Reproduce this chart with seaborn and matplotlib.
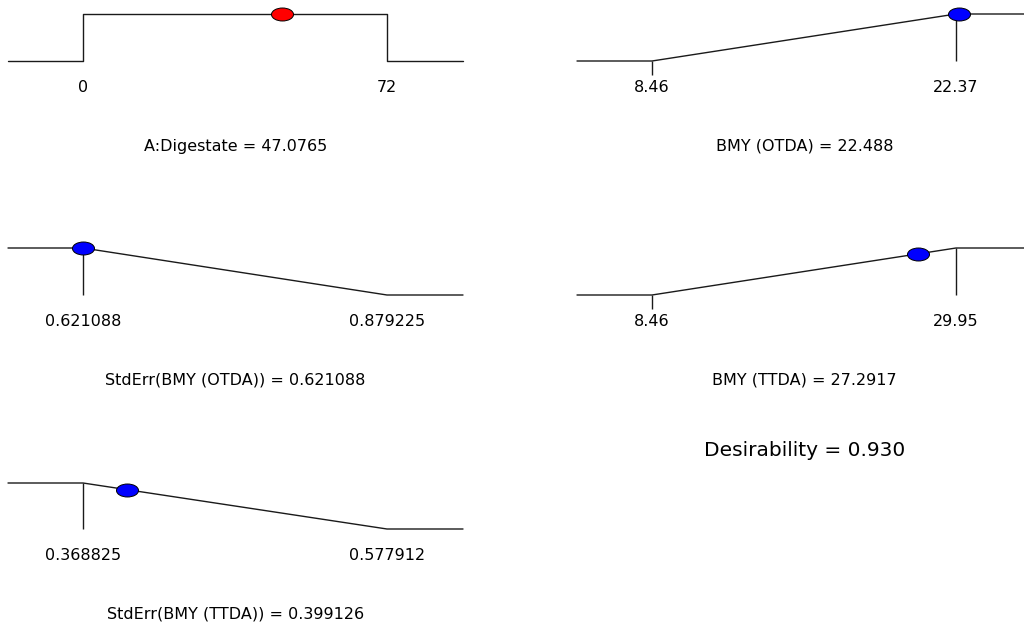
import numpy as np
import pandas as pd
import matplotlib
matplotlib.use("Agg")
import matplotlib.pyplot as plt
import seaborn as sns
from matplotlib.path import Path
from matplotlib.transforms import Affine2D

# Desirability ramps: factor / responses, their goal limits and the optimum found
names = ["A:Digestate", "BMY (OTDA)", "StdErr(BMY (OTDA))", "BMY (TTDA)", "StdErr(BMY (TTDA))"]
goals = ["in range", "maximize", "minimize", "maximize", "minimize"]
lows = [0, 8.46, 0.621088, 8.46, 0.368825]
highs = [72, 22.37, 0.879225, 29.95, 0.577912]
values = [47.0765, 22.488, 0.621088, 27.2917, 0.399126]
dot_colors = ["#FF0000", "#0000FF", "#0000FF", "#0000FF", "#0000FF"]
desirability = 0.930

sns.set_theme(style="white")
plt.rcParams["font.family"] = ["DejaVu Sans"]

W, H = 1024, 625
fig = plt.figure(figsize=(W / 100, H / 100), dpi=100)
fig.patch.set_facecolor("white")

# panel slots in pixels: left edge, y of the d=1 level, y of the d=0 level
slots = [(8, 14, 61), (577, 14, 61), (8, 248, 295), (577, 248, 295), (8, 483, 529)]
PANEL_W = 455      # full width of one ramp
LOW_OFF = 75       # distance from panel edge to the low limit
SPAN = 304         # distance between low and high limits
TICK_PX = 14       # length of the small tick under the low limit
LABEL_PX = 26.5    # limit labels below the d=0 level
TITLE_PX = 85      # name = value caption below the d=0 level

LINE = dict(color="#1a1a1a", linewidth=1.0)


def desir(goal, v, lo, hi):
    if goal == "maximize":
        return float(np.clip((v - lo) / (hi - lo), 0, 1))
    if goal == "minimize":
        return float(np.clip((hi - v) / (hi - lo), 0, 1))
    return 1.0 if lo <= v <= hi else 0.0


# flattened ellipse used as the optimum marker
ellipse = Path.unit_circle().transformed(Affine2D().scale(1.0, 13 / 22))

for name, goal, lo, hi, v, col, (px, ytop, ybot) in zip(
        names, goals, lows, highs, values, dot_colors, slots):
    hpx = ybot - ytop
    ax = fig.add_axes([px / W, 1 - ybot / H, PANEL_W / W, hpx / H])
    rng = hi - lo
    x0 = lo - LOW_OFF / SPAN * rng
    x1 = lo + (PANEL_W - LOW_OFF) / SPAN * rng
    ax.set_xlim(x0, x1)
    ax.set_ylim(0, 1)
    ax.axis("off")

    if goal == "maximize":
        xs, ds = [x0, lo, hi, x1], [0, 0, 1, 1]
    elif goal == "minimize":
        xs, ds = [x0, lo, hi, x1], [1, 1, 0, 0]
    else:
        xs, ds = [x0, lo, lo, hi, hi, x1], [0, 0, 1, 1, 0, 0]
    ramp = pd.DataFrame({"x": xs, "d": ds})
    sns.lineplot(data=ramp, x="x", y="d", sort=False, estimator=None,
                 ax=ax, legend=False, **LINE)
    for ln in ax.lines:
        ln.set_clip_on(False)

    if goal == "maximize":
        ax.vlines(hi, 0, 1, clip_on=False, colors=LINE["color"], linewidth=1.0)
        ax.vlines(lo, -TICK_PX / hpx, 0, clip_on=False,
                  colors=LINE["color"], linewidth=1.0)
    elif goal == "minimize":
        ax.vlines(lo, 0, 1, clip_on=False, colors=LINE["color"], linewidth=1.0)

    d = desir(goal, v, lo, hi)
    sns.scatterplot(x=[v], y=[d], ax=ax, marker=ellipse, s=251, color=col,
                    edgecolor="black", linewidth=0.7, zorder=5, clip_on=False,
                    legend=False)

    for lim in (lo, hi):
        ax.annotate(f"{lim:g}", xy=(lim, 0), xytext=(0, -LABEL_PX),
                    textcoords="offset pixels", ha="center", va="center",
                    fontsize=11.5, color="black")
    ax.annotate(f"{name} = {v:g}", xy=(0.5, 0), xycoords="axes fraction",
                xytext=(0, -TITLE_PX), textcoords="offset pixels",
                ha="center", va="center", fontsize=11.5, color="black")

fig.text(805 / W, 1 - 451 / H, f"Desirability = {desirability:.3f}",
         ha="center", va="center", fontsize=14.5, color="black")

fig.savefig("out.png", dpi=100, facecolor="white")
